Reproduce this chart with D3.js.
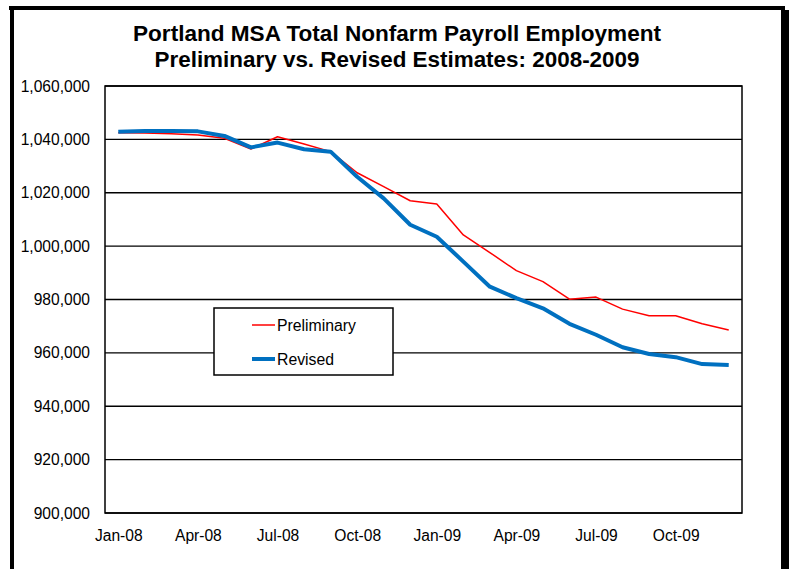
<!DOCTYPE html>
<html lang="en">
<head>
  <meta charset="UTF-8">
  <title>Portland MSA Total Nonfarm Payroll Employment</title>
  <script src="https://d3js.org/d3.v7.min.js"></script>
  <style>
    body { margin: 0; background: #fff; }
    svg { font-family: "Liberation Sans", Arial, sans-serif; display: block; }
  </style>
</head>
<body>
  <svg id="chart"></svg>

  <script>
    // months Jan-08 .. Dec-09
    const months = ["Jan-08","Feb-08","Mar-08","Apr-08","May-08","Jun-08","Jul-08","Aug-08","Sep-08","Oct-08","Nov-08","Dec-08",
                    "Jan-09","Feb-09","Mar-09","Apr-09","May-09","Jun-09","Jul-09","Aug-09","Sep-09","Oct-09","Nov-09","Dec-09"];

    const preliminary = [1042500, 1042400, 1042100, 1041600, 1040400, 1036400, 1041000, 1038300, 1035400, 1027500, 1022300, 1017000,
                         1015800, 1004200, 997600, 990800, 986700, 980100, 980900, 976400, 973900, 973900, 970900, 968600];

    const revised = [1042900, 1043100, 1043100, 1043000, 1041300, 1037000, 1038800, 1036300, 1035400, 1026000, 1017900, 1008000,
                     1003500, 994200, 984800, 980500, 976700, 970900, 966800, 962100, 959600, 958400, 955800, 955500];

    const yTicks = [900000, 920000, 940000, 960000, 980000, 1000000, 1020000, 1040000, 1060000];
    const xTickLabels = ["Jan-08","Apr-08","Jul-08","Oct-08","Jan-09","Apr-09","Jul-09","Oct-09"];

    const W = 789, H = 569;
    const plot = {left: 105, right: 742, top: 86, bottom: 513};

    const svg = d3.select("#chart").attr("width", W).attr("height", H);

    // outer frame (thick black border, right side heavier)
    svg.append("rect").attr("x", 9).attr("y", 6).attr("width", 776).attr("height", 4).attr("fill", "#000");
    svg.append("rect").attr("x", 10).attr("y", 6).attr("width", 4).attr("height", H - 6).attr("fill", "#000");
    svg.append("rect").attr("x", 781).attr("y", 10).attr("width", 8).attr("height", H - 10).attr("fill", "#000");

    // title
    const title = svg.append("g").attr("font-weight", "bold").attr("font-size", "22px")
      .attr("text-anchor", "middle").attr("fill", "#000");
    title.append("text").attr("x", 397).attr("y", 41)
      .attr("textLength", 528).attr("lengthAdjust", "spacingAndGlyphs")
      .text("Portland MSA Total Nonfarm Payroll Employment");
    title.append("text").attr("x", 397).attr("y", 67)
      .attr("textLength", 485).attr("lengthAdjust", "spacingAndGlyphs")
      .text("Preliminary vs. Revised Estimates: 2008-2009");

    // scales
    const x = d3.scalePoint().domain(months).range([plot.left, plot.right]).padding(0.5);
    const y = d3.scaleLinear().domain([900000, 1060000]).range([plot.bottom, plot.top]);

    // gridlines
    svg.append("g")
      .selectAll("line")
      .data(yTicks)
      .enter().append("line")
      .attr("x1", plot.left).attr("x2", plot.right)
      .attr("y1", d => y(d)).attr("y2", d => y(d))
      .attr("stroke", "#000").attr("stroke-width", 1.3);

    // plot border
    svg.append("rect")
      .attr("x", plot.left).attr("y", plot.top)
      .attr("width", plot.right - plot.left).attr("height", plot.bottom - plot.top)
      .attr("fill", "none").attr("stroke", "#000").attr("stroke-width", 1.5);

    // y axis labels
    const yAxis = svg.append("g")
      .attr("transform", "translate(" + plot.left + ",0)")
      .call(d3.axisLeft(y).tickValues(yTicks).tickSize(0).tickPadding(15).tickFormat(d3.format(",")));
    yAxis.select(".domain").remove();
    yAxis.selectAll("text").attr("font-size", "15.6px").attr("font-family", "Liberation Sans, Arial, sans-serif").attr("fill", "#000");

    // x axis labels
    const xAxis = svg.append("g")
      .attr("transform", "translate(0," + plot.bottom + ")")
      .call(d3.axisBottom(x).tickValues(xTickLabels).tickSize(0).tickPadding(17));
    xAxis.select(".domain").remove();
    xAxis.selectAll("text").attr("font-size", "15.6px").attr("font-family", "Liberation Sans, Arial, sans-serif").attr("fill", "#000");

    // lines
    const line = d3.line().x((d, i) => x(months[i])).y(d => y(d));

    svg.append("path").datum(preliminary)
      .attr("d", line).attr("fill", "none")
      .attr("stroke", "#ff0000").attr("stroke-width", 1.5).attr("stroke-linejoin", "round");

    svg.append("path").datum(revised)
      .attr("d", line).attr("fill", "none")
      .attr("stroke", "#0070c0").attr("stroke-width", 4).attr("stroke-linejoin", "round");

    // legend
    const legend = svg.append("g");
    legend.append("rect")
      .attr("x", 214).attr("y", 308).attr("width", 179).attr("height", 67)
      .attr("fill", "#fff").attr("stroke", "#000").attr("stroke-width", 1.5);

    const legendItems = [
      {name: "Preliminary", color: "#ff0000", width: 1.5, y: 325},
      {name: "Revised", color: "#0070c0", width: 4, y: 359}
    ];
    legendItems.forEach(item => {
      legend.append("line")
        .attr("x1", 252).attr("x2", 275).attr("y1", item.y).attr("y2", item.y)
        .attr("stroke", item.color).attr("stroke-width", item.width);
      legend.append("text")
        .attr("x", 277).attr("y", item.y + 6)
        .attr("font-size", "15.8px").attr("fill", "#000")
        .text(item.name);
    });
  </script>
</body>
</html>
